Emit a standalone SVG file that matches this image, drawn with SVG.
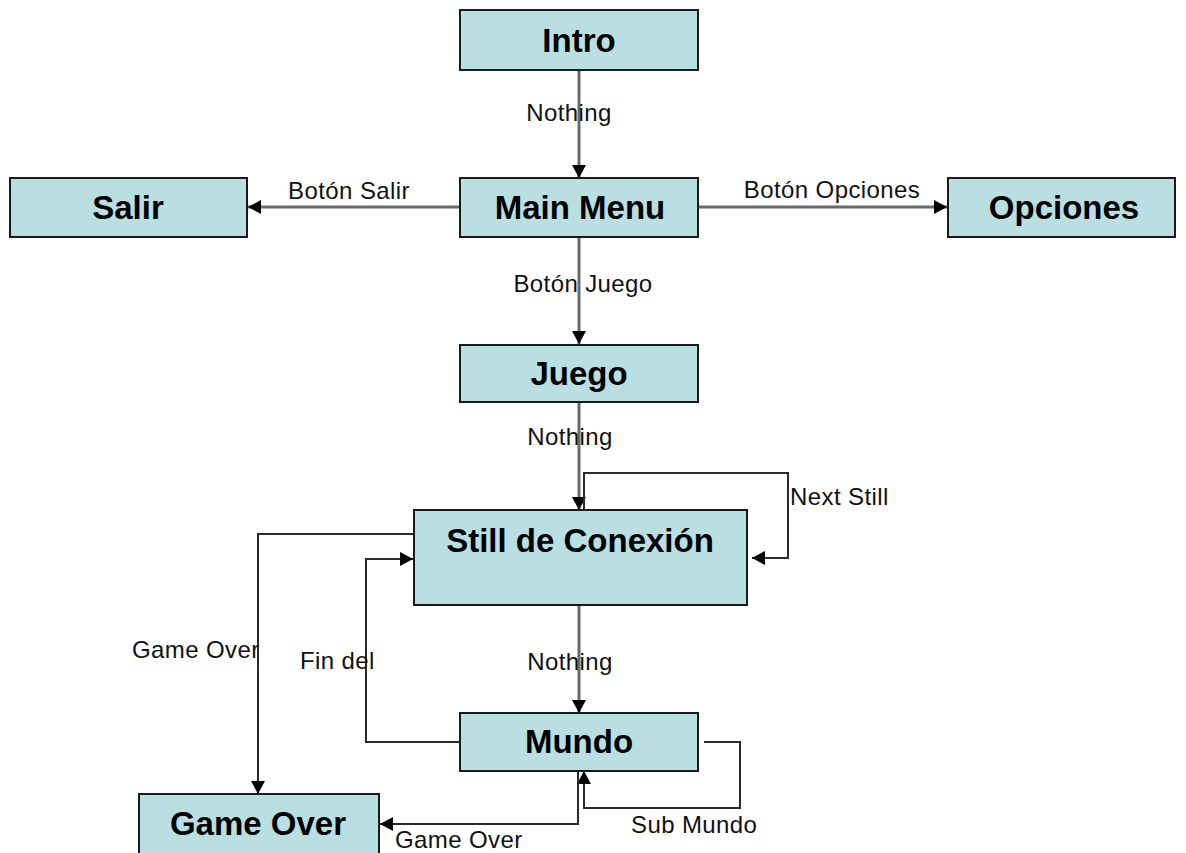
<svg xmlns="http://www.w3.org/2000/svg" width="1186" height="853" viewBox="0 0 1186 853">
<style>
.box{fill:#B9DFE2;stroke:#1a1a1a;stroke-width:2}
.nt{font-family:"Liberation Sans",Arial,sans-serif;font-weight:bold;font-size:33px;fill:#000;text-anchor:middle}
.lb{font-family:"Liberation Sans",Arial,sans-serif;font-size:24px;fill:#111;letter-spacing:0.4px}
.ln{fill:none;stroke:#2a2a2a;stroke-width:2}
.gl{fill:none;stroke:#6a6a6a;stroke-width:3}
</style>
<defs>
<marker id="ah" viewBox="0 0 13 14" refX="13" refY="7" markerWidth="13" markerHeight="14" markerUnits="userSpaceOnUse" orient="auto">
<path d="M0,0 L13,7 L0,14 Z" fill="#000"/>
</marker>
</defs>
<rect width="1186" height="853" fill="#fff"/>
<g id="connectors">
<line class="gl" x1="579" y1="70" x2="579" y2="178" marker-end="url(#ah)"/>
<line class="gl" x1="460" y1="207" x2="248" y2="207" marker-end="url(#ah)"/>
<line class="gl" x1="698" y1="207" x2="947" y2="207" marker-end="url(#ah)"/>
<line class="gl" x1="579" y1="237" x2="579" y2="344" marker-end="url(#ah)"/>
<line class="gl" x1="579" y1="402" x2="579" y2="510" marker-end="url(#ah)"/>
<polyline class="ln" points="584,510 584,473 788,473 788,558 752,558" marker-end="url(#ah)"/>
<polyline class="ln" points="413,534 258,534 258,794" marker-end="url(#ah)"/>
<polyline class="ln" points="460,742 366,742 366,559 413,559" marker-end="url(#ah)"/>
<line class="gl" x1="579" y1="605" x2="579" y2="713" marker-end="url(#ah)"/>
<polyline class="ln" points="704,742 740,742 740,808 584,808 584,771" marker-end="url(#ah)"/>
<polyline class="ln" points="578,771 578,824 380,824" marker-end="url(#ah)"/>
<text class="lb" x="569" y="121" text-anchor="middle">Nothing</text>
<text class="lb" x="349" y="199" text-anchor="middle">Botón Salir</text>
<text class="lb" x="832" y="198" text-anchor="middle">Botón Opciones</text>
<text class="lb" x="583" y="292" text-anchor="middle">Botón Juego</text>
<text class="lb" x="570" y="445" text-anchor="middle">Nothing</text>
<text class="lb" x="790" y="505">Next Still</text>
<text class="lb" x="132" y="658">Game Over</text>
<text class="lb" x="300" y="669">Fin del</text>
<text class="lb" x="570" y="670" text-anchor="middle">Nothing</text>
<text class="lb" x="631" y="833">Sub Mundo</text>
<text class="lb" x="395" y="848">Game Over</text>
</g>
<g id="intro"><rect class="box" x="460" y="10" width="238" height="60"/><text class="nt" x="579" y="52">Intro</text></g>
<g id="mainmenu"><rect class="box" x="460" y="178" width="238" height="59"/><text class="nt" x="580" y="219">Main Menu</text></g>
<g id="salir"><rect class="box" x="10" y="178" width="237" height="59"/><text class="nt" x="128" y="219">Salir</text></g>
<g id="opciones"><rect class="box" x="948" y="178" width="227" height="59"/><text class="nt" x="1064" y="219">Opciones</text></g>
<g id="juego"><rect class="box" x="460" y="345" width="238" height="57"/><text class="nt" x="579" y="385">Juego</text></g>
<g id="still"><rect class="box" x="414" y="510" width="333" height="95"/><text class="nt" x="580" y="552">Still de Conexión</text></g>
<g id="mundo"><rect class="box" x="460" y="713" width="238" height="58"/><text class="nt" x="579" y="753">Mundo</text></g>
<g id="gameover"><rect class="box" x="139" y="794" width="240" height="70"/><text class="nt" x="258" y="835">Game Over</text></g>
</svg>
